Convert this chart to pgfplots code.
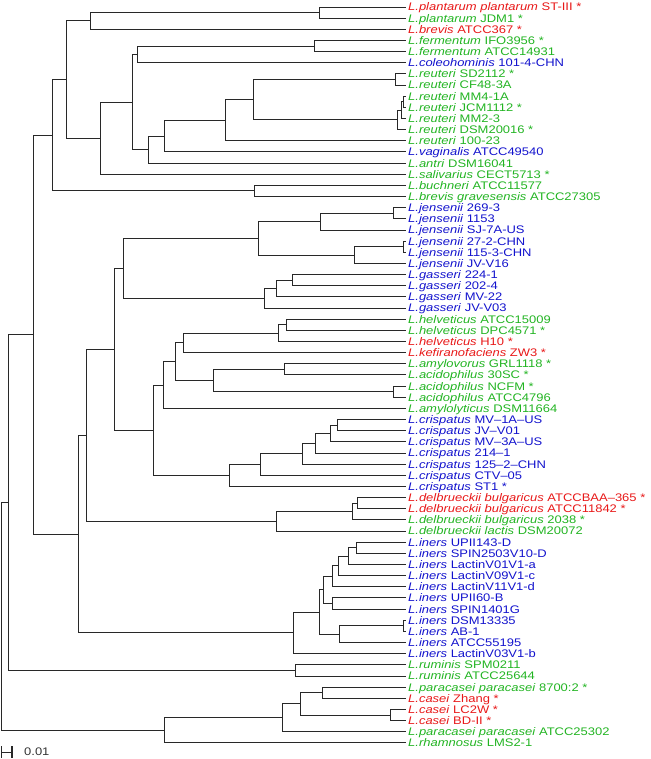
\documentclass[border=0pt]{standalone}
\usepackage{pgfplots}
\pgfplotsset{compat=1.18}
\usepackage{graphicx}
\usepackage{fontspec}
\setmainfont{Liberation Sans}
\definecolor{tred}{RGB}{232,24,24}
\definecolor{tgreen}{RGB}{34,180,34}
\definecolor{tblue}{RGB}{18,18,205}
\definecolor{tline}{RGB}{40,40,40}
% one internal node: child1 (x1,y1), node x, child2 (x2,y2)
\newcommand{\seg}[5]{\addplot[tline, line width=1.0pt, line cap=rect] coordinates {(#1,#2) (#3,#2) (#3,#5) (#4,#5)};}
\newcommand{\lab}[4]{\node[anchor=base west, inner sep=0pt, text=#2, font=\fontsize{11}{13}\selectfont, yshift=-3.9pt] at (axis cs:408,#1) {\scalebox{1.18}[1]{\textit{#3} #4}};}
\begin{document}
\begin{tikzpicture}
\begin{axis}[
  scale only axis, width=651pt, height=759pt,
  xmin=0, xmax=651, ymin=0.372, ymax=68.44, y dir=reverse,
  hide axis, clip=false]
\path[draw=none] (rel axis cs:0,0) rectangle (rel axis cs:1,1);
% tree
\seg{405}{1}{319}{405}{2}
\seg{319}{1.5}{90.5}{405}{3}
\seg{405}{4}{314}{405}{5}
\seg{314}{4.5}{137}{405}{6}
\seg{405}{7}{395}{405}{8}
\seg{405}{9}{403}{405}{10}
\seg{403}{9.5}{401}{405}{11}
\seg{401}{10.25}{397}{405}{12}
\seg{395}{7.5}{253}{397}{11.125}
\seg{253}{9.3125}{225}{405}{13}
\seg{225}{11.15625}{164}{405}{14}
\seg{164}{12.578}{148}{405}{15}
\seg{137}{5.25}{132}{148}{13.789}
\seg{132}{9.5195}{100}{405}{16}
\seg{90.5}{2.25}{66}{100}{12.760}
\seg{405}{17}{254}{405}{18}
\seg{66}{7.505}{52}{254}{17.5}
\seg{405}{19}{393}{405}{20}
\seg{393}{19.5}{320}{405}{21}
\seg{405}{22}{403}{405}{23}
\seg{403}{22.5}{354}{405}{24}
\seg{320}{20.25}{258}{354}{23.25}
\seg{405}{25}{292}{405}{26}
\seg{292}{25.5}{276}{405}{27}
\seg{276}{26.25}{264}{405}{28}
\seg{258}{21.75}{123}{264}{27.125}
\seg{405}{29}{286}{405}{30}
\seg{286}{29.5}{278}{405}{31}
\seg{278}{30.25}{183}{405}{32}
\seg{405}{33}{284}{405}{34}
\seg{405}{35}{393}{405}{36}
\seg{284}{33.5}{213}{393}{35.5}
\seg{183}{31.125}{175.5}{213}{34.5}
\seg{175.5}{32.8125}{163}{405}{37}
\seg{405}{38}{337}{405}{39}
\seg{337}{38.5}{330}{405}{40}
\seg{330}{39.25}{315}{405}{41}
\seg{315}{40.125}{302.5}{405}{42}
\seg{302.5}{41.0625}{260}{405}{43}
\seg{260}{42.03125}{229}{405}{44}
\seg{163}{34.906}{153}{229}{43.0156}
\seg{123}{24.4375}{114.5}{153}{38.961}
\seg{405}{45}{357}{405}{46}
\seg{357}{45.5}{352}{405}{47}
\seg{352}{46.25}{276}{405}{48}
\seg{114.5}{31.699}{86}{276}{47.125}
\seg{405}{49}{356}{405}{50}
\seg{356}{49.5}{348}{405}{51}
\seg{348}{50.25}{338}{405}{52}
\seg{338}{51.125}{332}{405}{53}
\seg{405}{54}{332}{405}{55}
\seg{332}{52.0625}{323}{332}{54.5}
\seg{405}{56}{403}{405}{57}
\seg{403}{56.5}{339}{405}{58}
\seg{323}{53.28125}{319}{339}{57.25}
\seg{319}{55.2656}{293}{405}{59}
\seg{86}{39.412}{78.5}{293}{57.1328}
\seg{52}{12.5025}{33.6}{78.5}{48.272}
\seg{405}{60}{295}{405}{61}
\seg{33.6}{30.387}{8.7}{295}{60.5}
\seg{405}{62}{322.5}{405}{63}
\seg{405}{64}{390}{405}{65}
\seg{322.5}{62.5}{300}{390}{64.5}
\seg{300}{63.5}{282.6}{405}{66}
\seg{282.6}{64.75}{164}{405}{67}
\seg{8.7}{45.444}{1.5}{164}{65.875}
% scale bar
\addplot[tline, line width=1.1pt] coordinates {(1.5,67.28) (1.5,68.35)};
\addplot[tline, line width=1.1pt] coordinates {(1.5,67.82) (12,67.82)};
\addplot[tline, line width=1.1pt] coordinates {(12,67.28) (12,68.35)};
\node[anchor=base west, inner sep=0pt, text=black!80, font=\fontsize{11}{13}\selectfont, yshift=-3.9pt] at (axis cs:24,67.82) {\scalebox{1.18}[1]{0.01}};
% labels
\lab{1}{tred}{L.plantarum plantarum}{ST-III *}
\lab{2}{tgreen}{L.plantarum}{JDM1 *}
\lab{3}{tred}{L.brevis}{ATCC367 *}
\lab{4}{tgreen}{L.fermentum}{IFO3956 *}
\lab{5}{tgreen}{L.fermentum}{ATCC14931}
\lab{6}{tblue}{L.coleohominis}{101-4-CHN}
\lab{7}{tgreen}{L.reuteri}{SD2112 *}
\lab{8}{tgreen}{L.reuteri}{CF48-3A}
\lab{9}{tgreen}{L.reuteri}{MM4-1A}
\lab{10}{tgreen}{L.reuteri}{JCM1112 *}
\lab{11}{tgreen}{L.reuteri}{MM2-3}
\lab{12}{tgreen}{L.reuteri}{DSM20016 *}
\lab{13}{tgreen}{L.reuteri}{100-23}
\lab{14}{tblue}{L.vaginalis}{ATCC49540}
\lab{15}{tgreen}{L.antri}{DSM16041}
\lab{16}{tgreen}{L.salivarius}{CECT5713 *}
\lab{17}{tgreen}{L.buchneri}{ATCC11577}
\lab{18}{tgreen}{L.brevis gravesensis}{ATCC27305}
\lab{19}{tblue}{L.jensenii}{269-3}
\lab{20}{tblue}{L.jensenii}{1153}
\lab{21}{tblue}{L.jensenii}{SJ-7A-US}
\lab{22}{tblue}{L.jensenii}{27-2-CHN}
\lab{23}{tblue}{L.jensenii}{115-3-CHN}
\lab{24}{tblue}{L.jensenii}{JV-V16}
\lab{25}{tblue}{L.gasseri}{224-1}
\lab{26}{tblue}{L.gasseri}{202-4}
\lab{27}{tblue}{L.gasseri}{MV-22}
\lab{28}{tblue}{L.gasseri}{JV-V03}
\lab{29}{tgreen}{L.helveticus}{ATCC15009}
\lab{30}{tgreen}{L.helveticus}{DPC4571 *}
\lab{31}{tred}{L.helveticus}{H10 *}
\lab{32}{tred}{L.kefiranofaciens}{ZW3 *}
\lab{33}{tgreen}{L.amylovorus}{GRL1118 *}
\lab{34}{tgreen}{L.acidophilus}{30SC *}
\lab{35}{tgreen}{L.acidophilus}{NCFM *}
\lab{36}{tgreen}{L.acidophilus}{ATCC4796}
\lab{37}{tgreen}{L.amylolyticus}{DSM11664}
\lab{38}{tblue}{L.crispatus}{MV--1A--US}
\lab{39}{tblue}{L.crispatus}{JV--V01}
\lab{40}{tblue}{L.crispatus}{MV--3A--US}
\lab{41}{tblue}{L.crispatus}{214--1}
\lab{42}{tblue}{L.crispatus}{125--2--CHN}
\lab{43}{tblue}{L.crispatus}{CTV--05}
\lab{44}{tblue}{L.crispatus}{ST1 *}
\lab{45}{tred}{L.delbrueckii bulgaricus}{ATCCBAA--365 *}
\lab{46}{tred}{L.delbrueckii bulgaricus}{ATCC11842 *}
\lab{47}{tgreen}{L.delbrueckii bulgaricus}{2038 *}
\lab{48}{tgreen}{L.delbrueckii lactis}{DSM20072}
\lab{49}{tblue}{L.iners}{UPII143-D}
\lab{50}{tblue}{L.iners}{SPIN2503V10-D}
\lab{51}{tblue}{L.iners}{LactinV01V1-a}
\lab{52}{tblue}{L.iners}{LactinV09V1-c}
\lab{53}{tblue}{L.iners}{LactinV11V1-d}
\lab{54}{tblue}{L.iners}{UPII60-B}
\lab{55}{tblue}{L.iners}{SPIN1401G}
\lab{56}{tblue}{L.iners}{DSM13335}
\lab{57}{tblue}{L.iners}{AB-1}
\lab{58}{tblue}{L.iners}{ATCC55195}
\lab{59}{tblue}{L.iners}{LactinV03V1-b}
\lab{60}{tgreen}{L.ruminis}{SPM0211}
\lab{61}{tgreen}{L.ruminis}{ATCC25644}
\lab{62}{tgreen}{L.paracasei paracasei}{8700:2 *}
\lab{63}{tred}{L.casei}{Zhang *}
\lab{64}{tred}{L.casei}{LC2W *}
\lab{65}{tred}{L.casei}{BD-II *}
\lab{66}{tgreen}{L.paracasei paracasei}{ATCC25302}
\lab{67}{tgreen}{L.rhamnosus}{LMS2-1}
\end{axis}
\end{tikzpicture}
\end{document}
